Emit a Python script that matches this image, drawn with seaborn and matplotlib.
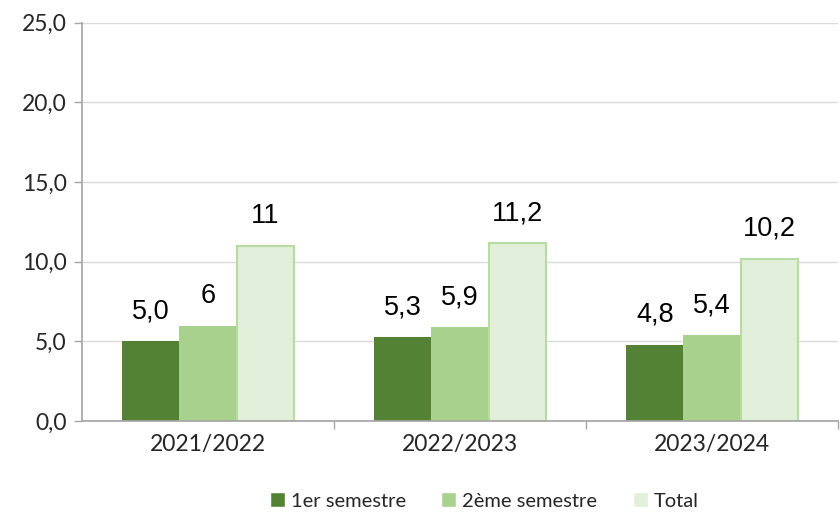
import pandas as pd
import matplotlib.pyplot as plt
import seaborn as sns

# data
years = ["2021/2022", "2022/2023", "2023/2024"]
series = ["1er semestre", "2ème semestre", "Total"]
sem1 = [5.0, 5.3, 4.8]
sem2 = [6.0, 5.9, 5.4]
total = [11.0, 11.2, 10.2]
labels_sem1 = ["5,0", "5,3", "4,8"]
labels_sem2 = ["6", "5,9", "5,4"]
labels_total = ["11", "11,2", "10,2"]
y_ticks = [0, 5, 10, 15, 20, 25]

df = pd.DataFrame({
    "annee": years * 3,
    "serie": [series[0]] * 3 + [series[1]] * 3 + [series[2]] * 3,
    "valeur": sem1 + sem2 + total,
})

sns.set_theme(style="white")
plt.rcParams["font.family"] = ["Lato", "DejaVu Sans"]

fig = plt.figure(figsize=(8.4, 5.18), dpi=100)
ax = fig.add_axes([0.0976, 0.187, 0.9, 0.769])

palette = ["#548235", "#A9D18E", "#E2EFDA"]
sns.barplot(data=df, x="annee", y="valeur", hue="serie", palette=palette,
            width=0.68, gap=0, saturation=1, ax=ax, legend=True)

# outline of the "Total" bars
for patch in ax.containers[2]:
    patch.set_edgecolor("#B7DBA0")
    patch.set_linewidth(1.5)
for c in ax.containers[:2]:
    for patch in c:
        patch.set_edgecolor("none")

for c, labs in zip(ax.containers, [labels_sem1, labels_sem2, labels_total]):
    ax.bar_label(c, labels=labs, padding=12, fontsize=19.5,
                 family=["Liberation Sans", "DejaVu Sans"], color="#000000")

ax.set_ylim(0, 25)
ax.set_xlim(-0.5, 2.5)
ax.set_yticks(y_ticks)
ax.set_yticklabels([f"{v:.1f}".replace(".", ",") for v in y_ticks], fontsize=16.5)
ax.yaxis.grid(True, color="#D9D9D9", linewidth=1)
ax.set_axisbelow(True)
ax.set_xlabel("")
ax.set_ylabel("")
ax.tick_params(axis="x", length=0, labelsize=16.5, pad=9)
ax.tick_params(axis="y", length=6, color="#A6A6A6", width=1, pad=5, left=True)
ax.set_xticks([0.5, 1.5, 2.5], minor=True)
ax.tick_params(axis="x", which="minor", length=6, color="#A6A6A6", width=1, bottom=True)

for side in ["top", "right"]:
    ax.spines[side].set_visible(False)
ax.spines["left"].set_color("#A6A6A6")
ax.spines["bottom"].set_color("#A6A6A6")

ax.legend(loc="center", bbox_to_anchor=(0.532, -0.2), ncol=3, frameon=False,
          fontsize=14.5, handlelength=0.75, handleheight=0.75, handletextpad=0.3,
          columnspacing=1.75, title=None)

fig.savefig("out.png", dpi=100)
